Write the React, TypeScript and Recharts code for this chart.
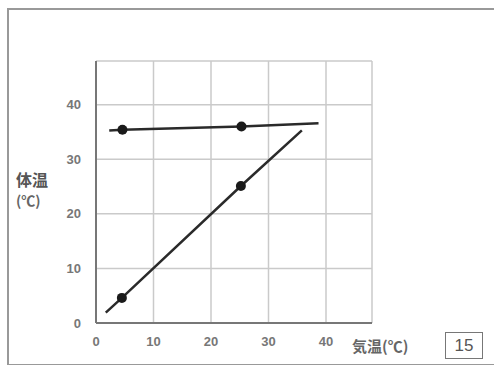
import React from 'react';
import { ScatterChart, Scatter, XAxis, YAxis, CartesianGrid } from 'recharts';

// =============================================================================
// Data
// =============================================================================

const AXIS_TICKS = [0, 10, 20, 30, 40];

// 体温 stays nearly constant (恒温動物)
const bodyAirTemps = [2.3, 4.6, 25.3, 38.7];
const bodyTemps = [35.25, 35.4, 36.0, 36.6];
const bodyMarked = [false, true, true, false];

// 体温 follows the air temperature (変温動物)
const coldAirTemps = [1.7, 4.5, 25.2, 35.8];
const coldTemps = [1.9, 4.6, 25.1, 35.3];
const coldMarked = [false, true, true, false];

const toPoints = (xs: number[], ys: number[], marks: boolean[]) =>
  xs.map((x, i) => ({ x, y: ys[i], mark: marks[i] }));

const bodyData = toPoints(bodyAirTemps, bodyTemps, bodyMarked);
const coldData = toPoints(coldAirTemps, coldTemps, coldMarked);

// =============================================================================
// Component
// =============================================================================

const LABEL_FONT = '"Noto Sans CJK JP", "Noto Sans", sans-serif';
const TICK_STYLE = {
  fill: '#777',
  fontSize: 13,
  fontWeight: 700,
  fontFamily: 'Liberation Sans, Arial, sans-serif',
};

const renderDot = (props: any) => {
  const { cx, cy, payload } = props;
  if (!payload?.mark) return <g />;
  return <circle cx={cx} cy={cy} r={5} fill="#1a1a1a" />;
};

export default function App() {
  return (
    <div
      style={{
        position: 'absolute',
        left: 0,
        top: 0,
        width: 494,
        height: 365,
        background: '#fff',
        overflow: 'hidden',
      }}
    >
      <div
        style={{
          position: 'absolute',
          left: 7,
          top: 8,
          width: 485,
          height: 354,
          border: '2px solid #999',
        }}
      />
      <ScatterChart
        width={494}
        height={365}
        margin={{ top: 61, right: 122, bottom: 12, left: 66 }}
      >
        <CartesianGrid stroke="#cacaca" strokeWidth={1.5} />
        <XAxis
          type="number"
          dataKey="x"
          domain={[0, 48]}
          ticks={AXIS_TICKS}
          allowDataOverflow
          height={30}
          axisLine={{ stroke: '#777', strokeWidth: 2 }}
          tickLine={false}
          tick={TICK_STYLE}
          tickMargin={8}
        />
        <YAxis
          type="number"
          dataKey="y"
          domain={[0, 48]}
          ticks={AXIS_TICKS}
          allowDataOverflow
          width={30}
          axisLine={{ stroke: '#777', strokeWidth: 2 }}
          tickLine={false}
          tick={TICK_STYLE}
          tickMargin={9}
        />
        <Scatter
          data={bodyData}
          line={{ stroke: '#2a2a2a', strokeWidth: 2.5 }}
          lineType="joint"
          shape={renderDot}
          isAnimationActive={false}
        />
        <Scatter
          data={coldData}
          line={{ stroke: '#2a2a2a', strokeWidth: 2.5 }}
          lineType="joint"
          shape={renderDot}
          isAnimationActive={false}
        />
      </ScatterChart>
      <div
        style={{
          position: 'absolute',
          left: 16,
          top: 169,
          fontFamily: LABEL_FONT,
          fontWeight: 700,
          fontSize: 16,
          color: '#555',
          lineHeight: '20px',
        }}
      >
        体温
      </div>
      <div
        style={{
          position: 'absolute',
          left: 16,
          top: 191,
          fontFamily: LABEL_FONT,
          fontWeight: 700,
          fontSize: 14,
          color: '#666',
          lineHeight: '18px',
        }}
      >
        (℃)
      </div>
      <div
        style={{
          position: 'absolute',
          left: 352,
          top: 336,
          fontFamily: LABEL_FONT,
          fontWeight: 700,
          fontSize: 15,
          color: '#666',
          lineHeight: '20px',
        }}
      >
        気温(℃)
      </div>
      <div
        style={{
          position: 'absolute',
          left: 445,
          top: 332,
          width: 36,
          height: 25,
          border: '1.5px solid #777',
          fontFamily: 'Liberation Sans, Arial, sans-serif',
          fontSize: 17,
          color: '#555',
          textAlign: 'center',
          lineHeight: '26px',
        }}
      >
        15
      </div>
    </div>
  );
}
